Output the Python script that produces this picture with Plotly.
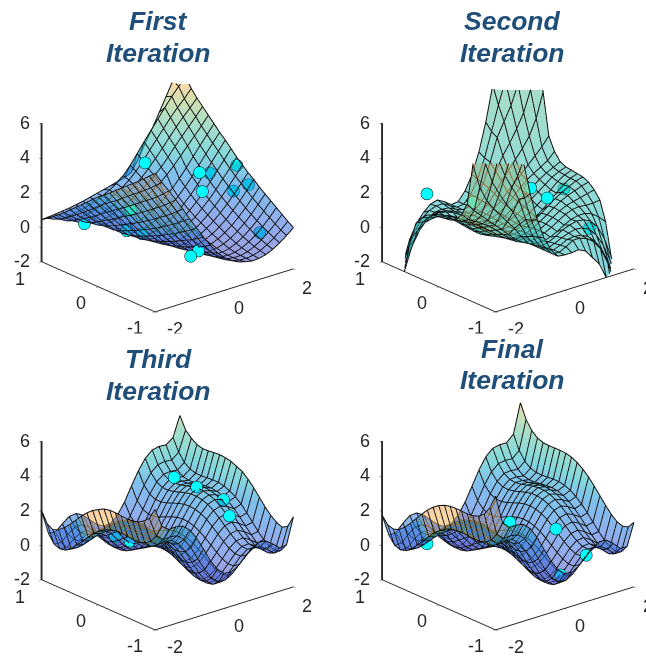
import plotly.graph_objects as go

x_grid = [-2,-1.8,-1.6,-1.4,-1.2,-1,-.8,-.6,-.4,-.2,0,.2,.4,.6,.8,1,1.2,1.4,1.6,1.8,2]
y_grid = [-1,-.9,-.8,-.7,-.6,-.5,-.4,-.3,-.2,-.1,0,.1,.2,.3,.4,.5,.6,.7,.8,.9,1]

z_first = [
[6.0,5.35,4.75,4.1,3.45,2.75,2.1,1.45,.85,.3,-.1,-.4,-.6,-.72,-.8,-.78,-.68,-.5,-.25,.05,.38],
[5.7,5.05,4.42,3.8,3.15,2.5,1.85,1.22,.65,.15,-.22,-.5,-.67,-.77,-.79,-.74,-.6,-.38,-.1,.22,.6],
[5.4,4.75,4.12,3.5,2.88,2.25,1.62,1.02,.47,.02,-.32,-.56,-.71,-.78,-.77,-.68,-.5,-.25,.07,.43,.85],
[5.1,4.47,3.85,3.24,2.62,2.0,1.41,.84,.32,-.1,-.4,-.62,-.74,-.78,-.73,-.6,-.38,-.1,.25,.65,1.1],
[4.82,4.2,3.6,3.0,2.38,1.78,1.2,.66,.18,-.2,-.48,-.66,-.75,-.74,-.66,-.48,-.23,.08,.45,.88,1.35],
[4.55,3.95,3.35,2.75,2.15,1.56,1.0,.49,.05,-.3,-.55,-.69,-.7,-.66,-.54,-.33,-.06,.28,.67,1.12,1.6],
[4.27,3.68,3.1,2.5,1.92,1.35,.82,.33,-.07,-.38,-.58,-.66,-.65,-.56,-.4,-.16,.13,.5,.9,1.36,1.85],
[4.0,3.42,2.85,2.28,1.7,1.15,.64,.18,-.18,-.44,-.59,-.63,-.58,-.45,-.25,.02,.34,.73,1.16,1.63,2.15],
[3.7,3.15,2.6,2.05,1.5,.97,.48,.05,-.27,-.48,-.58,-.58,-.48,-.32,-.08,.22,.57,.97,1.42,1.9,2.4],
[3.45,2.92,2.38,1.84,1.3,.8,.33,-.07,-.34,-.5,-.55,-.5,-.37,-.17,.1,.43,.81,1.23,1.7,2.18,2.7],
[3.2,2.68,2.15,1.62,1.12,.63,.19,-.17,-.39,-.5,-.5,-.41,-.25,-.01,.3,.66,1.06,1.5,2.0,2.48,3.0],
[2.9,2.4,1.9,1.4,.93,.47,.06,-.24,-.4,-.46,-.42,-.29,-.1,.17,.52,.9,1.33,1.8,2.32,2.82,3.35],
[2.6,2.12,1.66,1.2,.75,.33,-.04,-.28,-.38,-.37,-.29,-.14,.08,.38,.76,1.17,1.63,2.13,2.66,3.18,3.7],
[2.3,1.85,1.42,.99,.58,.2,-.1,-.23,-.26,-.2,-.08,.1,.35,.67,1.05,1.48,1.95,2.47,3.0,3.5,4.0],
[2.0,1.58,1.19,.8,.45,.16,.0,-.05,-.03,.07,.22,.42,.68,1.0,1.38,1.82,2.3,2.83,3.35,3.85,4.35],
[1.72,1.32,.97,.62,.35,.27,.3,.38,.5,.65,.85,1.08,1.35,1.65,2.0,2.4,2.85,3.3,3.75,4.2,4.7],
[1.42,1.08,.76,.48,.3,.28,.35,.47,.62,.8,1.02,1.28,1.57,1.92,2.3,2.75,3.25,3.7,4.15,4.6,5.05],
[1.15,.84,.55,.33,.28,.34,.43,.57,.74,.95,1.2,1.47,1.8,2.2,2.65,3.12,3.62,4.1,4.55,4.95,5.4],
[.9,.62,.4,.32,.36,.43,.54,.68,.86,1.08,1.33,1.63,2.02,2.48,3.0,3.5,4.0,4.5,4.95,5.35,5.8],
[.65,.48,.38,.38,.43,.52,.65,.78,.96,1.17,1.41,1.75,2.22,2.77,3.33,3.87,4.4,4.93,5.45,5.9,6.3],
[.43,.46,.5,.55,.6,.67,.75,.85,.95,1.05,1.15,1.27,1.35,1.55,2.2,3.0,3.7,4.5,5.3,6.1,6.9],
]

z_second = [
[15,12.5,10,8,6.2,4.2,2.6,1.4,.6,.1,.05,.05,.1,-.1,-.6,-1.1,-2,-3,-4.4,-6,-8],
[12,10,8,6.5,5.2,3.8,2.4,1.3,.55,.1,.05,.25,.5,.5,.35,.05,-.5,-1.4,-2.6,-4.2,-6],
[9.5,7.8,6.3,5.2,4.4,3.6,2.3,1.2,.5,.1,.05,.2,.4,.45,.4,.2,-.2,-.8,-1.7,-2.9,-4.4],
[7.7,6,4.8,4,3.3,2.7,1.9,1.05,.45,.1,0,.15,.35,.5,.6,.55,.35,-.1,-.8,-1.8,-3],
[5.9,4.5,3.6,3,2.5,2,1.5,.9,.4,.1,0,.1,.3,.55,.7,.8,.75,.55,.1,-.7,-1.9],
[3.5,3.0,2.6,2.2,1.8,1.4,1.0,.6,.3,.1,0,0,.1,.3,.55,.75,.85,.85,.7,.4,0],
[2.75,2.35,2.1,1.85,1.6,1.25,.85,.5,.2,.05,0,.05,.2,.4,.65,.9,1.05,1.1,1.05,1.05,1.1],
[2.3,2.1,1.9,1.65,1.35,1.05,.7,.4,.15,0,0,.05,.2,.45,.7,.95,1.15,1.25,1.35,1.45,1.55],
[2.15,2,1.8,1.5,1.2,.9,.6,.3,.1,-.02,-.03,.03,.2,.45,.72,1,1.25,1.45,1.6,1.75,1.85],
[2.1,1.95,1.7,1.35,1,.7,.42,.2,.03,-.05,-.05,0,.12,.35,.65,.95,1.25,1.5,1.7,1.9,2.0],
[2.05,1.9,1.65,1.3,.95,.6,.3,.1,0,-.05,-.05,-.05,0,.1,.3,.6,.95,1.3,1.65,1.9,2.05],
[2.0,1.9,1.7,1.5,1.25,.95,.65,.35,.12,0,-.05,-.05,.03,.2,.42,.7,1,1.35,1.7,1.95,2.1],
[1.85,1.75,1.6,1.45,1.25,1,.72,.45,.2,.03,-.03,-.02,.1,.3,.6,.9,1.2,1.5,1.8,2,2.15],
[1.55,1.45,1.35,1.25,1.15,.95,.7,.45,.2,.05,0,0,.15,.4,.7,1.05,1.35,1.65,1.9,2.1,2.3],
[1.1,1.05,1.05,1.1,1.05,.9,.65,.4,.2,.05,0,.05,.2,.5,.85,1.25,1.6,1.85,2.1,2.35,2.75],
[0,.4,.7,.85,.85,.75,.55,.3,.1,0,0,.1,.3,.6,1,1.4,1.8,2.2,2.6,3.0,3.5],
[-1.9,-.7,.1,.55,.75,.8,.7,.55,.3,.1,0,.1,.4,.9,1.5,2,2.5,3,3.6,4.5,5.9],
[-3,-1.8,-.8,-.1,.35,.55,.6,.5,.35,.15,0,.1,.45,1.05,1.9,2.7,3.3,4,4.8,6,7.7],
[-4.4,-2.9,-1.7,-.8,-.2,.2,.4,.45,.4,.2,.05,.1,.5,1.2,2.3,3.6,4.4,5.2,6.3,7.8,9.5],
[-6,-4.2,-2.6,-1.4,-.5,.05,.35,.5,.5,.25,.05,.1,.55,1.3,2.4,3.8,5.2,6.5,8,10,12],
[-8,-6,-4,-2.5,-1.2,-.4,.1,.45,.57,.35,.05,.1,.6,1.4,2.6,4.2,6.2,8,10,12.5,15],
]

z_third = [
[4.97,3.85,3.55,3.58,3.5,3.15,2.55,1.8,1.0,.38,.02,-.02,.2,.58,.98,1.2,1.15,.85,.5,.55,2.05],
[4.3,3.15,2.82,2.86,2.8,2.46,1.86,1.1,.34,-.27,-.6,-.62,-.38,.03,.45,.7,.68,.4,.05,.08,1.35],
[4.0,2.7,2.38,2.43,2.39,2.07,1.49,.74,.0,-.58,-.9,-.9,-.64,-.21,.23,.5,.51,.25,-.08,-.05,1.15],
[3.8,2.46,2.15,2.22,2.2,1.9,1.33,.6,-.12,-.68,-.98,-.97,-.68,-.23,.23,.52,.55,.3,-.02,.03,1.3],
[3.72,2.37,2.08,2.16,2.16,1.88,1.33,.62,-.08,-.62,-.9,-.87,-.56,-.09,.39,.7,.75,.52,.2,.27,1.55],
[3.7,2.36,2.09,2.19,2.21,1.95,1.42,.73,.05,-.47,-.73,-.68,-.35,.14,.64,.97,1.04,.83,.53,.6,1.9],
[3.72,2.39,2.14,2.26,2.3,2.06,1.55,.88,.22,-.28,-.53,-.45,-.1,.41,.93,1.28,1.37,1.18,.9,.99,2.3],
[3.75,2.42,2.19,2.33,2.39,2.17,1.68,1.03,.39,-.1,-.32,-.22,.15,.67,1.22,1.59,1.7,1.53,1.26,1.38,2.7],
[3.75,2.42,2.21,2.37,2.45,2.25,1.78,1.15,.53,.06,-.14,-.02,.37,.91,1.48,1.87,2.0,1.85,1.6,1.74,3.05],
[3.68,2.35,2.16,2.34,2.44,2.26,1.81,1.2,.6,.15,-.03,.11,.52,1.08,1.67,2.08,2.23,2.1,1.87,2.02,3.35],
[3.5,2.21,2.04,2.24,2.36,2.2,1.77,1.18,.6,.17,.01,.17,.6,1.18,1.77,2.2,2.36,2.24,2.04,2.21,3.5],
[3.3,2.0,1.85,2.08,2.21,2.07,1.65,1.08,.52,.11,-.03,.15,.6,1.2,1.81,2.26,2.44,2.34,2.16,2.35,3.65],
[3.02,1.72,1.58,1.83,1.98,1.86,1.46,.91,.37,-.02,-.14,.06,.53,1.15,1.78,2.25,2.45,2.37,2.21,2.42,3.72],
[2.68,1.36,1.25,1.51,1.69,1.58,1.21,.67,.15,-.22,-.32,-.1,.39,1.03,1.68,2.17,2.39,2.33,2.19,2.42,3.75],
[2.3,.98,.88,1.17,1.36,1.27,.92,.4,-.1,-.45,-.53,-.28,.22,.88,1.55,2.06,2.3,2.26,2.14,2.39,3.72],
[1.92,.6,.52,.82,1.03,.96,.63,.13,-.35,-.68,-.73,-.47,.05,.73,1.42,1.95,2.21,2.19,2.09,2.36,3.68],
[1.58,.26,.2,.52,.74,.69,.38,-.1,-.56,-.87,-.9,-.62,-.08,.62,1.33,1.88,2.16,2.16,2.08,2.37,3.66],
[1.32,.02,-.03,.3,.55,.52,.22,-.24,-.68,-.97,-.98,-.68,-.12,.6,1.33,1.9,2.2,2.22,2.15,2.46,3.75],
[1.17,-.05,-.08,.25,.51,.5,.23,-.21,-.64,-.9,-.9,-.58,0,.74,1.49,2.07,2.39,2.43,2.38,2.7,3.98],
[1.36,.08,.05,.4,.68,.7,.45,.03,-.38,-.6,-.6,-.27,.34,1.1,1.86,2.46,2.8,2.86,2.82,3.15,4.3],
[2.0,.55,.5,.85,1.15,1.2,.98,.58,.2,-.02,.02,.38,1.0,1.8,2.55,3.15,3.5,3.58,3.55,3.85,5.0],
]

z_final = [
[5.73,4.05,3.67,3.68,3.60,3.23,2.59,1.78,.99,.36,0,-.04,.19,.58,.99,1.23,1.20,.88,.47,.45,1.73],
[4.91,3.25,2.89,2.92,2.86,2.51,1.89,1.10,.33,-.28,-.62,-.64,-.39,.02,.45,.71,.70,.40,.01,.01,1.31],
[4.41,2.77,2.43,2.48,2.44,2.11,1.51,.74,-.01,-.60,-.92,-.92,-.65,-.22,.23,.51,.52,.24,-.13,-.11,1.21],
[4.13,2.51,2.19,2.26,2.24,1.93,1.35,.60,-.13,-.70,-1.00,-.98,-.69,-.24,.23,.53,.56,.30,-.05,-.01,1.33],
[4.01,2.41,2.11,2.20,2.20,1.91,1.35,.62,-.09,-.64,-.92,-.88,-.57,-.10,.39,.71,.76,.52,.19,.25,1.61],
[3.98,2.40,2.12,2.23,2.25,1.98,1.44,.73,.04,-.49,-.75,-.69,-.36,.13,.64,.98,1.05,.83,.52,.60,1.98],
[3.99,2.43,2.17,2.30,2.34,2.09,1.57,.88,.21,-.30,-.54,-.46,-.11,.40,.93,1.29,1.38,1.18,.89,.99,2.39],
[4.00,2.46,2.22,2.37,2.43,2.20,1.70,1.03,.38,-.11,-.33,-.23,.14,.67,1.22,1.60,1.71,1.53,1.26,1.38,2.80],
[3.98,2.46,2.24,2.41,2.49,2.28,1.80,1.15,.52,.05,-.15,-.03,.36,.91,1.48,1.88,2.01,1.85,1.60,1.74,3.18],
[3.89,2.39,2.19,2.38,2.48,2.29,1.83,1.20,.59,.14,-.04,.10,.51,1.08,1.67,2.09,2.24,2.10,1.87,2.03,3.49],
[3.73,2.25,2.07,2.28,2.40,2.23,1.79,1.18,.59,.16,0,.16,.59,1.18,1.79,2.23,2.40,2.28,2.07,2.25,3.73],
[3.49,2.03,1.87,2.10,2.24,2.09,1.67,1.08,.51,.10,-.04,.14,.59,1.20,1.83,2.29,2.48,2.38,2.19,2.39,3.89],
[3.18,1.74,1.60,1.85,2.01,1.88,1.48,.91,.36,-.03,-.15,.05,.52,1.15,1.80,2.28,2.49,2.41,2.24,2.46,3.98],
[2.80,1.38,1.26,1.53,1.71,1.60,1.22,.67,.14,-.23,-.33,-.11,.38,1.03,1.70,2.20,2.43,2.37,2.22,2.46,4.00],
[2.39,.99,.89,1.18,1.38,1.29,.93,.40,-.11,-.46,-.54,-.30,.21,.88,1.57,2.09,2.34,2.30,2.17,2.43,3.99],
[1.98,.60,.52,.83,1.05,.98,.64,.13,-.36,-.69,-.75,-.49,.04,.73,1.44,1.98,2.25,2.23,2.12,2.40,3.98],
[1.61,.25,.19,.52,.76,.71,.39,-.10,-.57,-.88,-.92,-.64,-.09,.62,1.35,1.91,2.20,2.20,2.11,2.41,4.01],
[1.33,-.01,-.05,.30,.56,.53,.23,-.24,-.69,-.98,-1.00,-.70,-.13,.60,1.35,1.93,2.24,2.26,2.19,2.51,4.13],
[1.21,-.11,-.13,.24,.52,.51,.23,-.22,-.65,-.92,-.92,-.60,-.01,.74,1.51,2.11,2.44,2.48,2.43,2.77,4.41],
[1.31,.01,.01,.40,.70,.71,.45,.02,-.39,-.64,-.62,-.28,.33,1.10,1.89,2.51,2.86,2.92,2.89,3.25,4.91],
[1.73,.45,.47,.88,1.20,1.23,.99,.58,.19,-.04,0,.36,.99,1.78,2.59,3.23,3.60,3.68,3.67,4.05,5.73],
]

px_first = [-1.42,-.69,-.41,-.74,.33,.43,.51,1.95,1.95,1.93,1.74,1.68,-.42,-.81]
py_first = [.6,.3,.2,.2,.6,-.3,-.3,.45,-.03,-.25,-.1,-.6,-.8,-.9]
pz_first = [.42,0,-.21,1.37,2.85,3.53,2.39,1.48,2.61,1.83,1.36,-.28,.26,.34]

px_second = [-.87,-.17,.31,1.94,1.69,-.03]
py_second = [.9,-.5,-.5,.2,-.4,.6]
pz_second = [1.37,3.3,2.43,.92,-.34,.79]

px_third = [1.01,1.17,1.45,1.13,-.52,-.43]
py_third = [.5,.2,-.1,-.4,.6,.4]
pz_third = [2.77,2.55,2.08,1.78,.14,.14]

px_final = [-1.36,.38,.4,.78,.37]
py_final = [.6,.2,-.6,-.9,-.7]
pz_final = [.27,1.01,1.77,.45,-.72]

titles = [("First","Iteration"),("Second","Iteration"),("Third","Iteration"),("Final","Iteration")]
z_ticks = [-2,0,2,4,6]
x_ticks = [-2,0,2]
y_ticks = [-1,0,1]

W, H = 646, 657
PASTEL = [[0,"#4750C7"],[.167,"#336CE0"],[.333,"#168CDC"],[.444,"#21B8BF"],[.589,"#61C39B"],[.7,"#B1C56F"],[.778,"#F6BA61"],[1,"#E08040"]]
TXT = "#262626"
TITLE = "#1F4E79"
OP = .55
ASP = 1.29

def scene_dom(cx, cy, hw, sh=280):
    return dict(x=[max(0,(cx-hw)/W), min(1,(cx+hw)/W)], y=[1-(cy+sh/2)/H, 1-(cy-sh/2)/H])

def axis(rng, ticks, lw):
    return dict(range=rng, tickvals=ticks, showticklabels=False, title=dict(text=""),
                showgrid=False, zeroline=False, showbackground=False, showspikes=False,
                showline=True, linecolor=TXT, linewidth=lw, ticks="outside", ticklen=3, tickcolor=TXT)

def wall_colors(z):
    # underside band along the x=-2 edge reads warmer than its height
    out = []
    for j, row in enumerate(z):
        r = list(row)
        if y_grid[j] <= .3:
            r[0] = 6.6
            r[1] = 5.8
            r[2] = row[2] + .8
        out.append(r)
    return out

def wedge_colors(z, boost):
    # the near wedge (x<=-.8, low y) reads warmer than its height
    out = []
    for j, row in enumerate(z):
        out.append([v + (boost if x_grid[i] <= -.8 and y_grid[j] <= -.2 else 0) for i, v in enumerate(row)])
    return out

def mesh_lines(z):
    xs, ys, zs = [], [], []
    for j, y in enumerate(y_grid):
        xs += x_grid + [None]; ys += [y]*len(x_grid) + [None]; zs += list(z[j]) + [None]
    for i, x in enumerate(x_grid):
        xs += [x]*len(y_grid) + [None]; ys += y_grid + [None]; zs += [r[i] for r in z] + [None]
    return xs, ys, zs

def lab(text, x, y, z, xs, ys, anchor="center"):
    return dict(text=text, x=x, y=y, z=z, xshift=xs, yshift=ys, showarrow=False, xanchor=anchor, yanchor="middle",
                font=dict(family="Liberation Sans", size=18, color=TXT))

panels = [
 (z_first, wedge_colors(z_first, 1.5), px_first, py_first, pz_first, -1, 8, 167.5, 195.5, 167.5, 158, 21, 53),
 (z_second, wedge_colors(z_second, 9), px_second, py_second, pz_second, -21, 25, 508, 195.5, 138, 512, 21, 53),
 (z_third, wall_colors(z_third), px_third, py_third, pz_third, -1, 8, 167.5, 513.5, 167.5, 158, 359, 391),
 (z_final, wall_colors(z_final), px_final, py_final, pz_final, -1, 8, 508, 513.5, 138, 512, 349, 380),
]

fig = go.Figure()
# top row's lower tick labels are cut off by the lower row in the reference
layout = dict(width=W, height=H, autosize=False, margin=dict(l=0,r=0,t=0,b=0), paper_bgcolor="white",
              showlegend=False,
              annotations=[dict(text=" ", x=0, y=1-333/H, xref="paper", yref="paper", xanchor="left", yanchor="top",
                                showarrow=False, width=W, height=12, bgcolor="white", borderpad=0)])
eye = [-.5968, -.7113, .371]
D = 1.54
for i, (z, sc, px, py, pz, cmin, cmax, cx, cy, hw, tx, ty1, ty2) in enumerate(panels):
    name = "scene" if i == 0 else f"scene{i+1}"
    fig.add_trace(go.Surface(x=x_grid, y=y_grid, z=z, surfacecolor=sc,
                             cmin=cmin, cmax=cmax, colorscale=PASTEL, opacity=OP,
                             showscale=False, scene=name, hoverinfo="skip",
                             lighting=dict(ambient=1, diffuse=.05, specular=0, roughness=1, fresnel=0),
                             contours=dict(z=dict(highlight=False), x=dict(highlight=False), y=dict(highlight=False))))
    mx, my, mz = mesh_lines(z)
    fig.add_trace(go.Scatter3d(x=mx, y=my, z=mz, mode="lines", scene=name, hoverinfo="skip",
                               line=dict(color="#111111", width=2.1), connectgaps=False))
    fig.add_trace(go.Scatter3d(x=px, y=py, z=pz, mode="markers", scene=name, hoverinfo="skip",
                               marker=dict(size=7, color="#00ffff", line=dict(color="black", width=1.5))))
    anns = [lab(str(t), -2, 1, t, -10, 0, "right") for t in z_ticks]
    anns += [lab("1", -2, 1, -2, -22, -18), lab("0", -2, 0, -2, -17, -17), lab("-1", -2, -1, -2, -20, -17)]
    anns += [lab("-2", -2, -1, -2, 20, -18), lab("0", 0, -1, -2, 15, -18), lab("2", 2, -1, -2, 14, -20)]
    layout[name] = dict(domain=scene_dom(cx, cy, hw), bgcolor="rgba(0,0,0,0)",
                        xaxis=axis([-2,2], x_ticks, 2), yaxis=axis([-1,1], y_ticks, 2), zaxis=axis([-2,6], z_ticks, 4),
                        aspectmode="manual", aspectratio=dict(x=1*ASP, y=.978*ASP, z=.826*ASP), annotations=anns,
                        camera=dict(projection=dict(type="orthographic"), center=dict(x=0,y=0,z=0),
                                    up=dict(x=0,y=0,z=1), eye=dict(x=eye[0]*D, y=eye[1]*D, z=eye[2]*D)))
    for line, ty in zip(titles[i], (ty1, ty2)):
        layout["annotations"].append(dict(text=f"<b><i>{line}</i></b>", x=tx/W, y=1-ty/H, xref="paper", yref="paper",
                                          showarrow=False, xanchor="center", yanchor="middle", align="center",
                                          font=dict(family="Liberation Sans", size=26.5, color=TITLE)))
fig.update_layout(**layout)
fig.write_html("out.html", config=dict(displayModeBar=False), post_script="document.body.style.margin='0';")
